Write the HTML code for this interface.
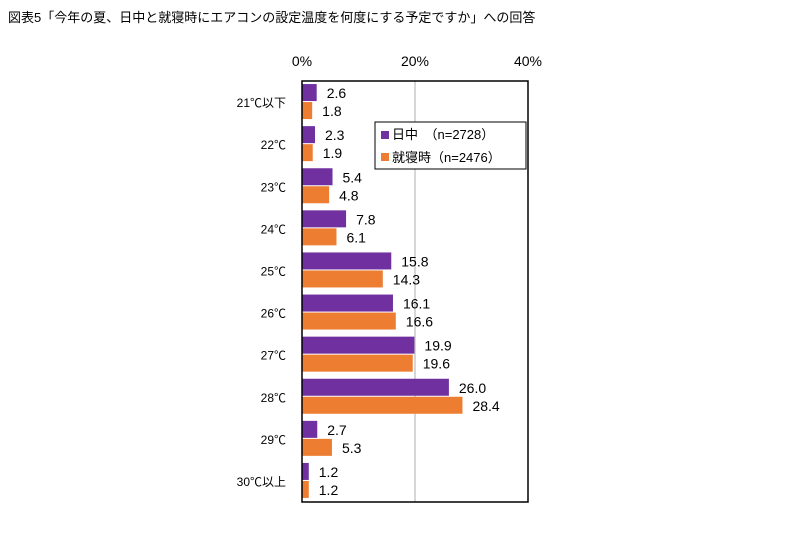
<!DOCTYPE html>
<html><head><meta charset="utf-8"><style>
body{margin:0;background:#fff;width:810px;height:528px;overflow:hidden}
svg text{font-family:"Liberation Sans","Noto Sans CJK JP",sans-serif;fill:#000}
</style></head><body>
<svg width="810" height="528">
<text x="8" y="22" font-size="13">図表5「今年の夏、日中と就寝時にエアコンの設定温度を何度にする予定ですか」への回答</text>
<g id="g"></g>
</svg>
<script>
const categories=["21℃以下","22℃","23℃","24℃","25℃","26℃","27℃","28℃","29℃","30℃以上"];
const dayValues=[2.6,2.3,5.4,7.8,15.8,16.1,19.9,26.0,2.7,1.2];
const nightValues=[1.8,1.9,4.8,6.1,14.3,16.6,19.6,28.4,5.3,1.2];
const ticks=[0,20,40];
const L=302,R=528,T=81,B=502;
const x=v=>L+(v/40)*(R-L);
const band=(B-T)/categories.length;
const g=document.getElementById('g');
const NS="http://www.w3.org/2000/svg";
function mk(t,a,txt){const e=document.createElementNS(NS,t);for(const k in a)e.setAttribute(k,a[k]);if(txt!==undefined)e.textContent=txt;g.appendChild(e);return e;}
ticks.forEach(t=>{
 if(t>0&&t<40){const l=mk('line',{x1:x(t),x2:x(t),y1:T,y2:B,stroke:'#c8c8c8','stroke-width':1.5});
 }
 const tx=mk('text',{x:x(t),y:66,'font-size':14,'text-anchor':'middle'},t+'%');
 
});
categories.forEach((c,i)=>{
 const cy=T+band*(i+0.5);
 const cl=mk('text',{x:286,y:cy+5,'font-size':12,'text-anchor':'end'},c);
 
 const b1=mk('rect',{x:L,y:cy-18,width:x(dayValues[i])-L,height:17,fill:'#7030a0'});
 
 const b2=mk('rect',{x:L,y:cy,width:x(nightValues[i])-L,height:17,fill:'#ed7d31'});
 
 const t1=mk('text',{x:x(dayValues[i])+10,y:cy-4,'font-size':14},dayValues[i].toFixed(1));
 
 const t2=mk('text',{x:x(nightValues[i])+10,y:cy+14,'font-size':14},nightValues[i].toFixed(1));
 
});
const fr=mk('rect',{x:L,y:T,width:R-L,height:B-T,fill:'none',stroke:'#000','stroke-width':1.5});

const lg=mk('rect',{x:375,y:122,width:151,height:47,fill:'#fff',stroke:'#000','stroke-width':1});

const s1=mk('rect',{x:381,y:131,width:8,height:8,fill:'#7030a0'});

const l1=mk('text',{x:392,y:139,'font-size':13},'日中　（n=2728）');

const s2=mk('rect',{x:381,y:153,width:8,height:8,fill:'#ed7d31'});

const l2=mk('text',{x:392,y:162,'font-size':13},'就寝時（n=2476）');

</script>
</body></html>
